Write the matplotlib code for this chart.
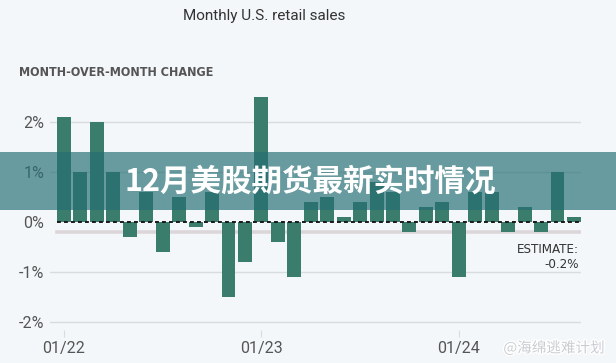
import matplotlib
matplotlib.use("Agg")
import matplotlib.pyplot as plt
import matplotlib.patheffects as pe
from matplotlib.patches import Rectangle
import numpy as np

# monthly change in %, Jan 2022 .. Aug 2024
changes = [2.1, 1.0, 2.0, 1.0, -0.3, 0.6, -0.6, 0.5, -0.1, 0.6, -1.5, -0.8,
           2.5, -0.4, -1.1, 0.4, 0.5, 0.1, 0.4, 0.8, 0.6, -0.2, 0.3, 0.4,
           -1.1, 0.6, 0.6, -0.2, 0.3, -0.2, 1.0, 0.1]
tick_pos = [0, 12, 24]
tick_labels = ["01/22", "01/23", "01/24"]
y_ticks = [-2, -1, 0, 1, 2]
y_labels = ["-2%", "-1%", "0%", "1%", "2%"]
estimate = -0.2

bg = "#f3f7fa"
bar_color = "#3b7d6c"

W, H = 616, 363
fig = plt.figure(figsize=(W / 100, H / 100), dpi=100, facecolor=bg)

# axes in pixel coords: x 50..581, y 90..330
left, right, top, bottom = 50, 581, 90, 330
ax = fig.add_axes([left / W, (H - bottom) / H, (right - left) / W, (bottom - top) / H])
ax.set_facecolor(bg)

px_per_bar = 16.45
x0 = 64
ax.set_xlim((left - x0) / px_per_bar, (right - x0) / px_per_bar)
ax.set_ylim((222 - bottom) / 50, (222 - top) / 50)

x = np.arange(len(changes))
ax.bar(x, changes, width=0.85, color=bar_color, zorder=3)

for yt in y_ticks:
    if yt != 0:
        ax.axhline(yt, color="#d8dcdf", lw=1, zorder=1)

ax.plot([-0.45, ax.get_xlim()[1]], [estimate, estimate], color="#dcd6d9", lw=2.6, zorder=2)
ax.plot([-0.45, ax.get_xlim()[1]], [0, 0], color="#1a1a1a", lw=1.4,
        linestyle=(0, (2, 1.6)), zorder=4)

for s in ax.spines.values():
    s.set_visible(False)

ax.set_yticks(y_ticks)
ax.set_yticklabels(y_labels, fontsize=11.5, color="#555555", family="Roboto")
ax.tick_params(axis="y", length=0, pad=4)
ax.set_xticks(tick_pos)
ax.set_xticklabels(tick_labels, fontsize=11.5, color="#555555", family="Roboto")
ax.tick_params(axis="x", length=5, color="#d8dcdf", pad=3)

ax.text(31.3, -0.42, "ESTIMATE:\n-0.2%", ha="right", va="top", fontsize=9.5,
        color="#333333", family="DejaVu Sans", fontstretch="condensed",
        linespacing=1.25, zorder=5)

fig.text(264 / W, 1 - 16 / H, "Monthly U.S. retail sales", ha="center", va="center",
         fontsize=11, color="#333333", family="Roboto")
fig.text(19 / W, 1 - 73 / H, "MONTH-OVER-MONTH CHANGE", ha="left", va="center",
         fontsize=9, color="#555555", fontweight="bold",
         family="DejaVu Sans", fontstretch="condensed")

# overlay banner
fig.patches.append(Rectangle((0, (H - 210) / H), 1, 58 / H, transform=fig.transFigure,
                             facecolor="#246e74", alpha=0.67, zorder=10))
fig.text(310 / W, 1 - 182 / H, "12月美股期货最新实时情况", ha="center", va="center",
         fontsize=22, color="white", fontweight="heavy",
         family=["Noto Sans CJK SC", "DejaVu Sans"], zorder=11)

# watermark
fig.text(605 / W, 1 - 348 / H, "@海绵逃难计划", ha="right", va="center",
         fontsize=10.5, color="#c9cdd1", family=["Noto Sans CJK SC", "DejaVu Sans"],
         path_effects=[pe.withStroke(linewidth=2, foreground="white")], zorder=11)

fig.savefig("out.png", dpi=100, facecolor=bg)
